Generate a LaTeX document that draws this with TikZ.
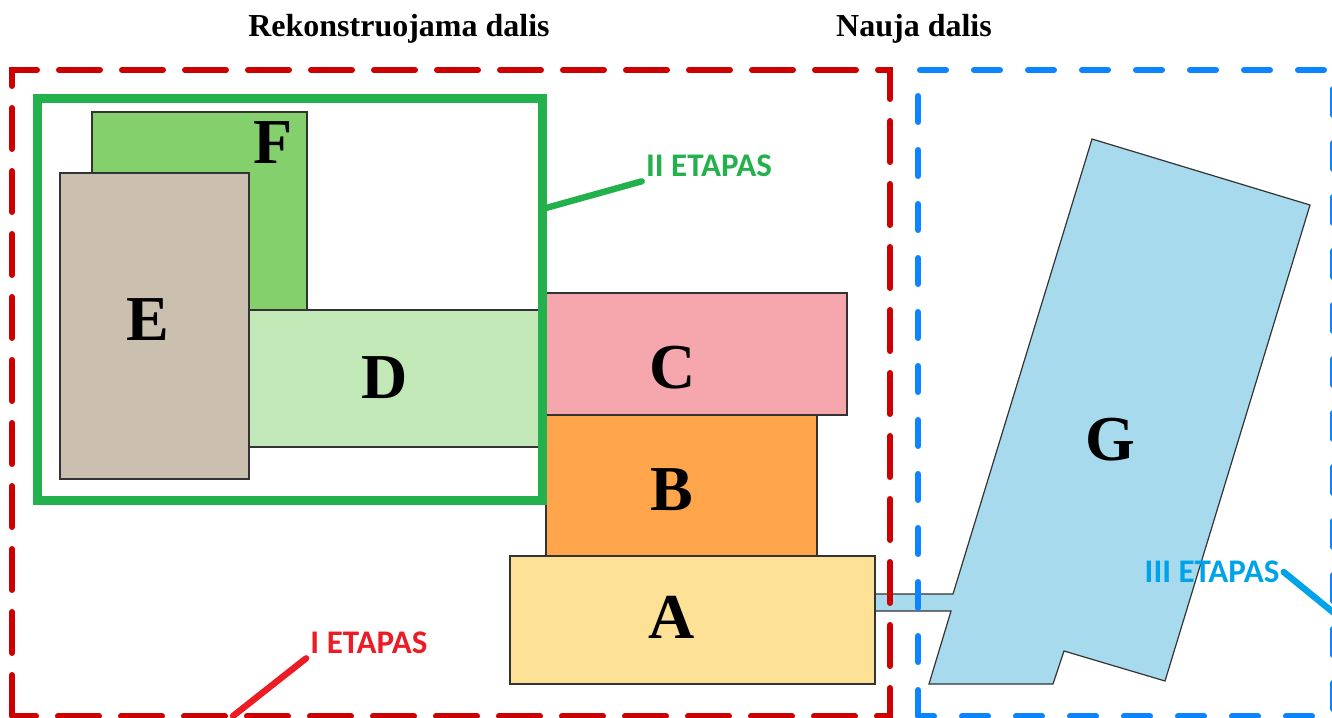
\documentclass[tikz,border=0pt]{standalone}
\usepackage{fontspec}
\setmainfont{Liberation Serif}
\newfontfamily\stagefont{Carlito}

\definecolor{fillA}{HTML}{FCE196}
\definecolor{fillB}{HTML}{FFA54C}
\definecolor{fillC}{HTML}{F6A7AE}
\definecolor{fillD}{HTML}{C3E8B8}
\definecolor{fillE}{HTML}{CBBFB0}
\definecolor{fillF}{HTML}{84D06D}
\definecolor{fillG}{HTML}{A8DAEE}
\definecolor{zonered}{HTML}{CC0000}
\definecolor{zoneblue}{HTML}{0A84FF}
\definecolor{stagered}{HTML}{ED1C24}
\definecolor{stagegreen}{HTML}{22B14C}
\definecolor{stageblue}{HTML}{00A2E8}

\tikzset{%
          every part/.style={
            draw=black!80,
            line width=0.6pt
          },
          part letter/.style={
            font=\fontsize{32}{32}\selectfont\bfseries,
            inner sep=0pt
          },
          part title/.style={
            font=\fontsize{16}{16}\selectfont\bfseries,
            inner sep=0pt
          },
          stage label/.style={
            font=\stagefont\fontsize{16.5}{16.5}\selectfont\bfseries,
            inner sep=2pt
          },
          stage line/.style={
            line width=3.2pt,
            line cap=round
          },
          old zone/.style={
            draw=zonered,
            line width=3pt,
            line cap=round,
            dash pattern=on 20.5pt off 11pt
          },
          new zone/.style={
            draw=zoneblue,
            line width=3pt,
            line cap=round,
            dash pattern=on 13pt off 14pt
          },
        }

\begin{document}
\begin{tikzpicture}[x=0.5pt, y=-0.5pt]
        \clip (0,0) rectangle (1332,717);

        \node [part title] (title-old) at (399,29) {Rekonstruojama dalis};
        \node [part title] (title-new) at (914,29) {Nauja dalis};

        % buildings
        \path [every part, fill=fillF] (92,112) rectangle (307,310);
        \path [every part, fill=fillE] (60,173) rectangle (249,479);
        \path [every part, fill=fillD] (249,310) rectangle (545,447);
        \path [every part, fill=fillC] (546,293) rectangle (847,415);
        \path [every part, fill=fillB] (546,415) rectangle (817,556);
        \path [draw=stagegreen, line width=4.5pt] (37,99) rectangle (542,500);
        \path [every part, fill=fillG] (875,594) -- (953,594) -- (1092,139) -- (1310,205)
              -- (1165,681) -- (1064,651) -- (1053,684) -- (929,684) -- (951,611)
              -- (875,611) -- cycle;
        \path [every part, fill=fillA] (510,556) rectangle (875,684);

        \node [part letter] (part-f) at (273,143) {F};
        \node [part letter] (part-e) at (148,320) {E};
        \node [part letter] (part-d) at (385,378) {D};
        \node [part letter] (part-c) at (673,368) {C};
        \node [part letter] (part-b) at (672,490) {B};
        \node [part letter] (part-a) at (672,617) {A};
        \node [part letter] (part-g) at (1110,440) {G};

        % zones
        \path [old zone] (12,716) -- (12,70) -- (890,70) -- (890,716) -- cycle;
        \path [new zone] (918,716) -- (918,70) -- (1333,70) -- (1333,716) -- cycle;

        % stages
        \node [stage label, text=stagered] (stage-i) at (369,643) {I ETAPAS};
        \node [stage label, text=stagegreen] (stage-ii) at (709,166) {II ETAPAS};
        \node [stage label, text=stageblue] (stage-iii) at (1212,572) {III ETAPAS};

        \coordinate (stage-i-end) at (233,716);
        \coordinate (stage-ii-end) at (546,208);
        \coordinate (stage-iii-end) at (1345,622);

        \path [draw, stage line, stagered] (stage-i.south west) -- (stage-i-end);
        \path [draw, stage line, stagegreen] (stage-ii.south west) -- (stage-ii-end);
        \path [draw, stage line, stageblue] (stage-iii.east) -- (stage-iii-end);

\end{tikzpicture}
\end{document}
